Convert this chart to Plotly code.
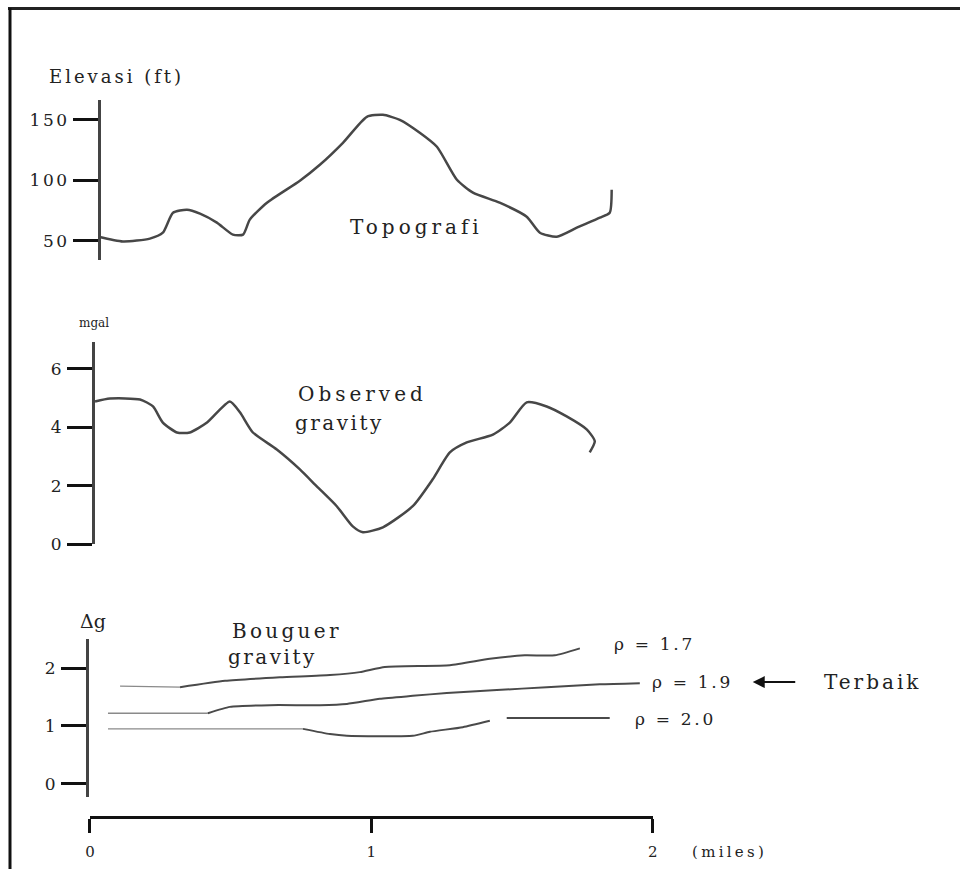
import plotly.graph_objects as go

# ---------------- data (distance in miles) ----------------
topo_x = [0.03, 0.117, 0.213, 0.259, 0.295, 0.345, 0.391, 0.451, 0.508, 0.544, 0.568, 0.629,
          0.746, 0.817, 0.899, 0.984, 1.041, 1.101, 1.172, 1.233, 1.304, 1.361, 1.456, 1.552,
          1.599, 1.659, 1.730, 1.812, 1.847, 1.854]
topo_elev = [53.3, 49.4, 51.7, 56.6, 73.1, 75.6, 72.3, 64.9, 55.0, 55.0, 67.4, 81.4,
             99.6, 112.8, 131.0, 152.5, 154.1, 150.0, 139.3, 127.7, 100.4, 89.7, 81.4, 69.8,
             56.6, 53.3, 60.7, 69.0, 73.1, 92.1]

obs_x = [0.018, 0.071, 0.178, 0.224, 0.259, 0.309, 0.355, 0.416, 0.497, 0.533, 0.579, 0.664,
         0.746, 0.806, 0.877, 0.934, 0.970, 1.041, 1.147, 1.218, 1.279, 1.339, 1.432, 1.492,
         1.552, 1.623, 1.694, 1.766, 1.794, 1.776]
obs_g = [4.88, 4.98, 4.95, 4.71, 4.16, 3.82, 3.82, 4.16, 4.88, 4.51, 3.82, 3.24,
         2.56, 1.98, 1.30, 0.61, 0.41, 0.58, 1.30, 2.22, 3.14, 3.48, 3.75, 4.16,
         4.85, 4.71, 4.37, 3.92, 3.52, 3.14]

b17_x = [0.107, 0.320, 0.480, 0.675, 0.853, 0.959, 1.048, 1.279, 1.421, 1.545, 1.652, 1.741]
b17_g = [1.69, 1.67, 1.78, 1.84, 1.88, 1.93, 2.02, 2.05, 2.16, 2.22, 2.22, 2.34]

b19_x = [0.064, 0.419, 0.497, 0.639, 0.817, 0.913, 1.030, 1.147, 1.268, 1.446, 1.623, 1.812, 1.954]
b19_g = [1.22, 1.22, 1.33, 1.36, 1.36, 1.38, 1.47, 1.52, 1.57, 1.62, 1.67, 1.72, 1.74]

b20_x = [0.064, 0.757, 0.853, 0.913, 1.147, 1.208, 1.325, 1.421, None, 1.481, 1.847]
b20_g = [0.95, 0.95, 0.86, 0.83, 0.83, 0.90, 0.98, 1.09, None, 1.14, 1.14]

x_ticks = [0, 1, 2]
elev_ticks = [50, 100, 150]
obs_ticks = [0, 2, 4, 6]
bg_ticks = [0, 1, 2]

# ---------------- helpers for pixel placement ----------------
W, H = 965, 879
SX, OX, SY = 0.99, 5.0, 0.99   # compensation for how the page is photographed
def px(x):
    return ((x - OX) / SX) / W
def py(y):
    return 1 - (y / SY) / H

FONT = "DejaVu Serif"
LINE = "#474747"

def sp(text, ls):
    return '<span style="letter-spacing:%spx">%s</span>' % (ls, text)

fig = go.Figure()
fig.add_trace(go.Scatter(x=topo_x, y=topo_elev, mode="lines", yaxis="y",
                         line=dict(color=LINE, width=2.5, shape="spline", smoothing=0.6)))
fig.add_trace(go.Scatter(x=obs_x, y=obs_g, mode="lines", yaxis="y2",
                         line=dict(color=LINE, width=2.5, shape="spline", smoothing=0.6)))
# Bouguer curves: the flat left part is drawn as a faint thin line, the rest darker
for bx, bg in [(b17_x, b17_g), (b19_x, b19_g), (b20_x, b20_g)]:
    fig.add_trace(go.Scatter(x=bx[:2], y=bg[:2], mode="lines", yaxis="y3",
                             line=dict(color="#8a8a8a", width=1.3)))
    fig.add_trace(go.Scatter(x=bx[1:], y=bg[1:], mode="lines", yaxis="y3", connectgaps=False,
                             line=dict(color="#4a4a4a", width=2.0, shape="spline", smoothing=0.5)))

yax_common = dict(showgrid=False, zeroline=False, showline=True, linewidth=3, linecolor="#444",
                  ticks="outside", ticklen=25, tickwidth=2.5, tickcolor="#111",
                  anchor="free", side="left", tickfont=dict(family=FONT, size=17, color="#222"),
                  fixedrange=True)

fig.update_layout(
    width=W, height=H, margin=dict(l=0, r=0, t=0, b=0),
    paper_bgcolor="white", plot_bgcolor="white", showlegend=False,
    xaxis=dict(range=[0, 2], domain=[px(90), px(653)], anchor="free", position=py(818),
               showgrid=False, zeroline=False, showline=True, linewidth=3, linecolor="#111",
               ticks="outside", ticklen=14, tickwidth=3, tickcolor="#111",
               tickvals=x_ticks, ticktext=[str(v) for v in x_ticks],
               tickfont=dict(family=FONT, size=15, color="#222"), ticklabelstandoff=6),
    yaxis=dict(range=[34.3, 166.5], domain=[py(260), py(100)], position=px(99),
               tickvals=elev_ticks, ticktext=[sp(v, 2.5) for v in elev_ticks], **yax_common),
    yaxis2=dict(range=[0, 6.93], domain=[py(545), py(342)], position=px(93),
                tickvals=obs_ticks, ticktext=[sp(v, 2) for v in obs_ticks], **yax_common),
    yaxis3=dict(range=[-0.224, 2.5], domain=[py(798), py(640)], position=px(87),
                tickvals=bg_ticks, ticktext=[sp(v, 2) for v in bg_ticks], **yax_common),
)

def label(text, x, y, size=20, anchor="left", ls=0):
    t = sp(text, ls) if ls else text
    fig.add_annotation(text=t, x=px(x), y=py(y), xref="paper", yref="paper",
                       xanchor=anchor, yanchor="middle", showarrow=False,
                       font=dict(family=FONT, size=size, color="#222"))

label("Elevasi (ft)", 47, 77, 18, ls=3)
label("Topografi", 348, 227, 20, ls=4)
label("mgal", 94, 323, 12, "center")
label("Observed", 296, 395, 20, ls=4)
label("gravity", 293, 424, 20, ls=2.5)
label("Δg", 93, 622, 19, "center")
label("Bouguer", 230, 632, 20, ls=3.3)
label("gravity", 226, 658, 20, ls=2.5)
label("ρ = 1.7", 612, 645, 17, ls=2.7)
label("ρ = 1.9", 650, 683, 17, ls=2.7)
label("ρ = 2.0", 633, 720, 17, ls=2.7)
label("Terbaik", 822, 683, 20, ls=3)
label("(miles)", 690, 853, 15, ls=3.3)

fig.add_annotation(x=px(753), y=py(683), xref="paper", yref="paper", text="",
                   showarrow=True, ax=44, ay=0, arrowhead=2, arrowsize=1.2,
                   arrowwidth=2, arrowcolor="#111")

# frame lines (top and left border of the scanned figure)
fig.add_shape(type="line", xref="paper", yref="paper", x0=px(8), x1=1, y0=py(8.5), y1=py(8.5),
              line=dict(color="#222", width=3))
fig.add_shape(type="line", xref="paper", yref="paper", x0=px(10), x1=px(10), y0=py(8), y1=0,
              line=dict(color="#111", width=3))

fig.write_html("out.html")
